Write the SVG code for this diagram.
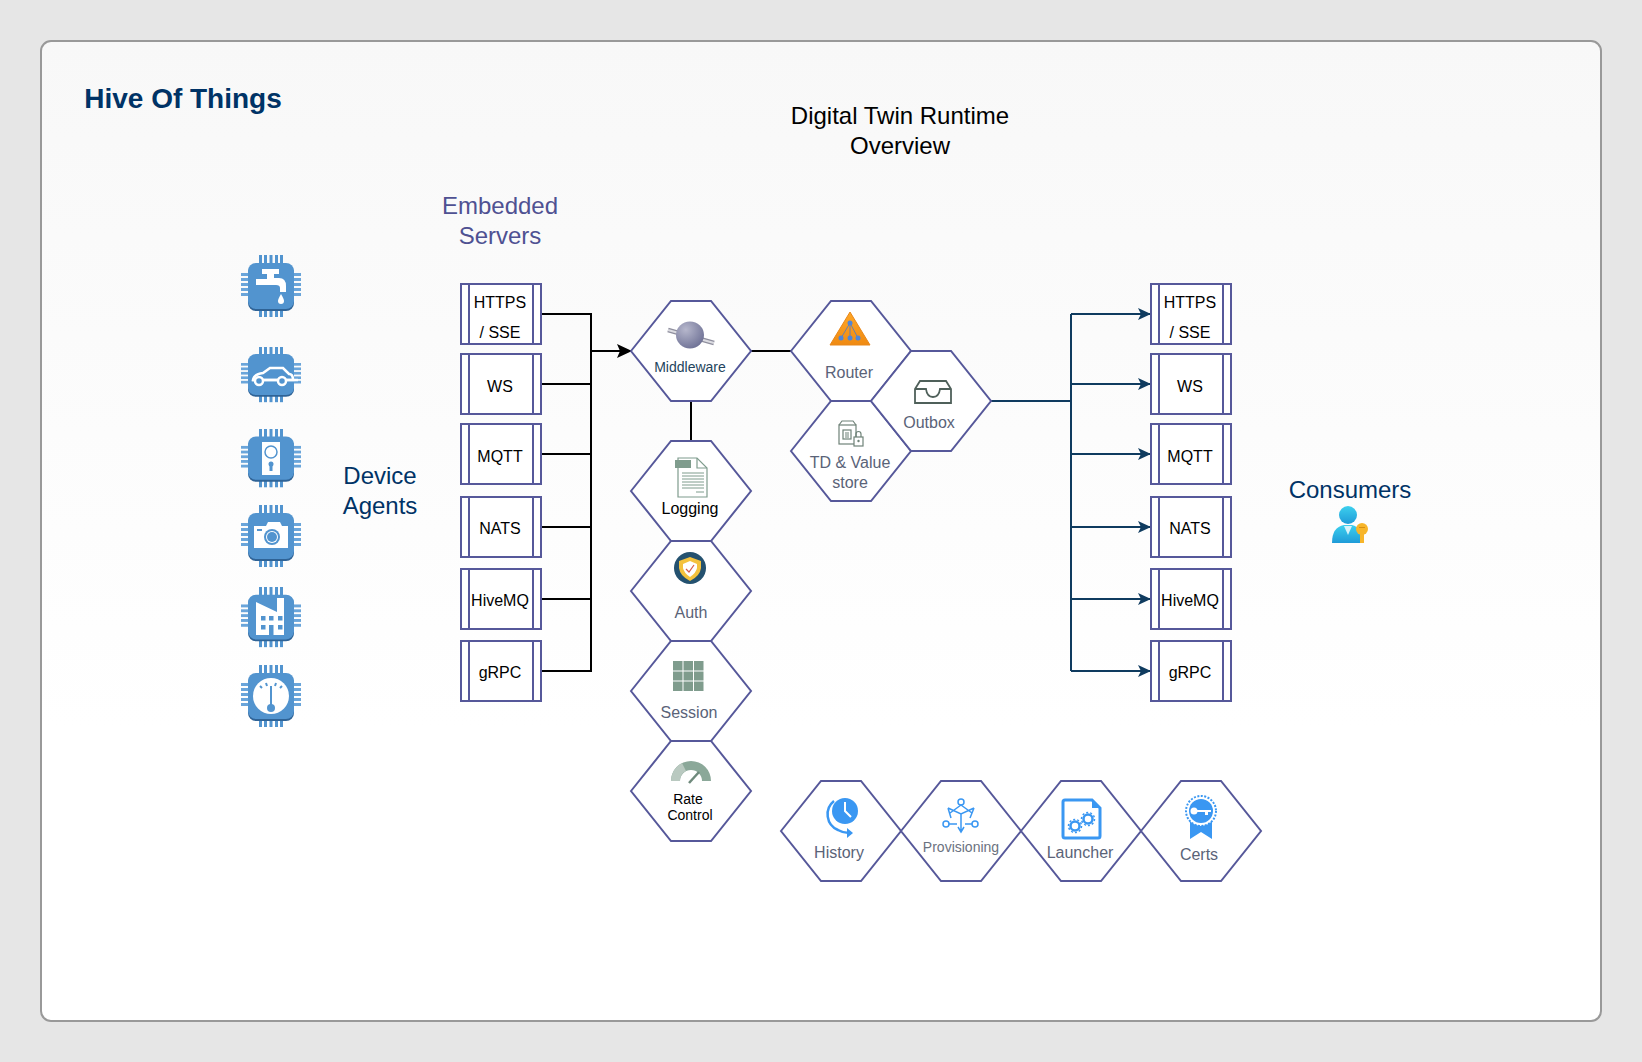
<svg xmlns="http://www.w3.org/2000/svg" width="1642" height="1062" viewBox="0 0 1642 1062">
<style>
text{font-family:"Liberation Sans",Arial,sans-serif;text-anchor:middle}
.hex,.box{fill:#fff;stroke:#56589a;stroke-width:2}
.t16{font-size:16px;fill:#000}
.lbl{font-size:16px;fill:#5a6378}
.t14{font-size:14px;fill:#000}
.big{font-size:24px}
.navy{fill:#003366}
.w{fill:#fff}
.c{fill:none;stroke:#000;stroke-width:2}
.n{fill:none;stroke:#0f3b5f;stroke-width:2}
.blue{fill:#3a97f2}
.bl{fill:none;stroke:#3a97f2}
.gr{fill:none;stroke:#6f8278;stroke-width:1.2}
</style>
<defs>
<linearGradient id="bg" x1="0" y1="0" x2="0" y2="1"><stop offset="0" stop-color="#f8f8f8"/><stop offset="0.7" stop-color="#fff"/></linearGradient>
<linearGradient id="orange" x1="0" y1="0" x2="0" y2="1"><stop offset="0" stop-color="#ffa726"/><stop offset="1" stop-color="#ef8a12"/></linearGradient>
<radialGradient id="ball" cx="0.35" cy="0.3" r="0.8"><stop offset="0" stop-color="#b6b7cc"/><stop offset="1" stop-color="#6a6d92"/></radialGradient>
<linearGradient id="person" x1="0" y1="0" x2="0" y2="1"><stop offset="0" stop-color="#3dd0ee"/><stop offset="1" stop-color="#1f9bd8"/></linearGradient>
<marker id="ak" markerWidth="16" markerHeight="14" refX="15" refY="7" orient="auto" markerUnits="userSpaceOnUse"><path d="M0 0L15 7L0 14L3 7Z" fill="#000"/></marker>
<marker id="an" markerWidth="14" markerHeight="12" refX="13" refY="6" orient="auto" markerUnits="userSpaceOnUse"><path d="M0 0L13 6L0 12L3 6Z" fill="#0f3b5f"/></marker>
<polygon id="h" class="hex" points="0,50 40,0 80,0 120,50 80,100 40,100"/>
<g id="bx"><rect class="box" x="0" y="0" width="80" height="60"/><path class="box" d="M8 0V60M72 0V60"/></g>
<g id="chip">
<g fill="#5294cf"><rect x="18" y="0" width="3" height="62"/><rect x="23" y="0" width="3" height="62"/><rect x="28.500" y="0" width="3" height="62"/><rect x="34" y="0" width="3" height="62"/><rect x="39" y="0" width="3" height="62"/></g>
<g fill="#6aa5da"><rect x="0" y="18" width="60" height="3"/><rect x="0" y="23" width="60" height="3"/><rect x="0" y="28" width="60" height="3"/><rect x="0" y="33" width="60" height="3"/><rect x="0" y="38" width="60" height="3"/></g>
<rect x="7" y="10" width="46" height="46" rx="8" fill="#2f6396"/>
<rect x="7" y="8" width="46" height="46" rx="8" fill="#5294cf"/>
</g>
</defs>
<rect width="1642" height="1062" fill="#e6e6e6"/>
<rect x="41" y="41" width="1560" height="980" rx="10" fill="url(#bg)" stroke="#999" stroke-width="2"/>
<text x="183" y="108" font-size="28" font-weight="bold" class="navy">Hive Of Things</text>
<text x="900" y="124" class="big">Digital Twin Runtime</text>
<text x="900" y="154" class="big">Overview</text>
<text x="500" y="214" class="big" fill="#4f5192">Embedded</text>
<text x="500" y="244" class="big" fill="#4f5192">Servers</text>
<text x="380" y="484" class="big navy">Device</text>
<text x="380" y="514" class="big navy">Agents</text>
<text x="1350" y="498" class="big navy">Consumers</text>

<g id="connectors">
<path class="c" d="M541 314H591V671H541M541 384H591M541 454H591M541 527H591M541 599H591"/>
<path class="c" marker-end="url(#ak)" d="M591 351H632"/>
<path class="c" d="M751 351H791M691 401V441"/>
<path class="n" d="M991 401H1071"/>
<path class="n" marker-end="url(#an)" d="M1071 314H1151"/>
<path class="n" marker-end="url(#an)" d="M1071 384H1151"/>
<path class="n" marker-end="url(#an)" d="M1071 454H1151"/>
<path class="n" marker-end="url(#an)" d="M1071 527H1151"/>
<path class="n" marker-end="url(#an)" d="M1071 599H1151"/>
<path class="n" marker-end="url(#an)" d="M1071 671H1151"/>
<path class="n" d="M1071 314V671"/>
</g>

<g id="chip-tap"><use href="#chip" transform="translate(241 255)"/><path class="w" d="M262 269H279V274H274V278H279Q286 278 286 286V292H280V288Q280 285 276 285H256V279H267V274H262Z"/><path class="w" d="M281 294Q284 299 284 301A3 3 0 0 1 278 301Q278 299 281 294Z"/></g>
<g id="chip-car"><use href="#chip" transform="translate(241 347) scale(1 .89)"/><path d="M253 380Q254 374 263 373L270 368H283L289 374Q293 374 293 380Z" fill="none" stroke="#fff" stroke-width="2.500"/><path d="M252 380H298" stroke="#fff" stroke-width="2.500"/><circle cx="259" cy="381" r="4" fill="#5294cf" stroke="#fff" stroke-width="2.500"/><circle cx="282" cy="381" r="4" fill="#5294cf" stroke="#fff" stroke-width="2.500"/></g>
<g id="chip-lock"><use href="#chip" transform="translate(241 429) scale(1 .94)"/><rect class="w" x="262" y="442" width="18" height="33"/><circle cx="271" cy="452" r="6" fill="#fff" stroke="#5294cf" stroke-width="1.500"/><circle cx="271" cy="464" r="2.500" fill="#5294cf"/><rect x="269.500" y="465" width="3" height="6" fill="#5294cf"/></g>
<g id="chip-camera"><use href="#chip" transform="translate(241 505)"/><path class="w" d="M254 526H266L268 522H280L282 526H288V548H254Z"/><rect x="257" y="529" width="5" height="2" fill="#5294cf"/><circle cx="272" cy="537" r="8" fill="#5294cf"/><circle cx="272" cy="537" r="6" fill="#fff"/><circle cx="272" cy="537" r="5" fill="#5294cf"/></g>
<g id="chip-factory"><use href="#chip" transform="translate(241 587) scale(1 .97)"/><path class="w" d="M256 602L277 612V598H284V635H256Z"/><g fill="#5294cf"><rect x="261" y="616" width="4.500" height="4.500"/><rect x="269" y="616" width="4.500" height="4.500"/><rect x="278" y="616" width="4.500" height="4.500"/><rect x="261" y="625" width="4.500" height="4.500"/><rect x="278" y="625" width="4.500" height="4.500"/><rect x="269" y="625" width="4.500" height="10"/></g></g>
<g id="chip-gauge"><use href="#chip" transform="translate(241 665)"/><circle class="w" cx="271" cy="696" r="18"/><rect x="270" y="686" width="2" height="22" fill="#5294cf"/><circle cx="271" cy="708" r="4" fill="#5294cf"/><path stroke="#5294cf" stroke-width="2" d="M260 686L262 688M266 683L267 686M276 683L275 686M282 686L280 688"/></g>

<g id="l-https"><use href="#bx" x="461" y="284"/><text class="t16" x="500" y="308">HTTPS</text><text class="t16" x="500" y="338">/ SSE</text></g>
<g id="l-ws"><use href="#bx" x="461" y="354"/><text class="t16" x="500" y="392">WS</text></g>
<g id="l-mqtt"><use href="#bx" x="461" y="424"/><text class="t16" x="500" y="462">MQTT</text></g>
<g id="l-nats"><use href="#bx" x="461" y="497"/><text class="t16" x="500" y="534">NATS</text></g>
<g id="l-hivemq"><use href="#bx" x="461" y="569"/><text class="t16" x="500" y="606">HiveMQ</text></g>
<g id="l-grpc"><use href="#bx" x="461" y="641"/><text class="t16" x="500" y="678">gRPC</text></g>
<g id="r-https"><use href="#bx" x="1151" y="284"/><text class="t16" x="1190" y="308">HTTPS</text><text class="t16" x="1190" y="338">/ SSE</text></g>
<g id="r-ws"><use href="#bx" x="1151" y="354"/><text class="t16" x="1190" y="392">WS</text></g>
<g id="r-mqtt"><use href="#bx" x="1151" y="424"/><text class="t16" x="1190" y="462">MQTT</text></g>
<g id="r-nats"><use href="#bx" x="1151" y="497"/><text class="t16" x="1190" y="534">NATS</text></g>
<g id="r-hivemq"><use href="#bx" x="1151" y="569"/><text class="t16" x="1190" y="606">HiveMQ</text></g>
<g id="r-grpc"><use href="#bx" x="1151" y="641"/><text class="t16" x="1190" y="678">gRPC</text></g>

<g id="middleware"><use href="#h" x="631" y="301"/><path d="M668 330L714 343" stroke="#8f8f9e" stroke-width="4.500"/><path d="M668 330L714 343" stroke="#dcdce2" stroke-width="2"/><ellipse cx="690" cy="335" rx="14" ry="13.500" fill="url(#ball)"/><text x="690" y="372" font-size="14" fill="#23445d">Middleware</text></g>
<g id="router"><use href="#h" x="791" y="301"/><polygon points="850,312 870,345 830,345" fill="url(#orange)" stroke="#e8871a"/><path d="M850 323L841 338M850 323L850 338M850 323L858 338" stroke="#6d7fa8" fill="none"/><g fill="#4f86d8"><circle cx="850" cy="323" r="2.500"/><circle cx="841" cy="338" r="2.500"/><circle cx="850" cy="338" r="2.500"/><circle cx="858" cy="338" r="2.500"/></g><text class="lbl" x="849" y="378">Router</text></g>
<g id="td-store"><use href="#h" x="791" y="401"/><g class="gr"><rect x="839" y="425" width="17" height="19"/><path d="M839 425L842 421H853L856 425"/><rect x="843" y="430" width="8" height="9"/><path d="M845 433H849M845 435H849M845 437H849"/></g><rect x="854" y="437" width="9" height="9" fill="#fff" stroke="#6f8278" stroke-width="1.200"/><path class="gr" d="M856 437V434A2.500 2.500 0 0 1 861 434V437"/><circle cx="858.500" cy="441" r="1.200" fill="#6f8278"/><text class="lbl" x="850" y="468">TD &amp; Value</text><text class="lbl" x="850" y="488">store</text></g>
<g id="outbox"><use href="#h" x="871" y="351"/><path d="M915 403V389L920 381H946L951 389V403ZM915 389H926Q927 397 933 397Q939 397 940 389H951" fill="none" stroke="#4f605a" stroke-width="1.800"/><text class="lbl" x="929" y="428">Outbox</text></g>

<g id="logging"><use href="#h" x="631" y="441"/><path d="M678 458H697L707 468V497H678Z" fill="#fff" stroke="#7f9c8d" stroke-width="1.200"/><path d="M697 458V468H707" fill="none" stroke="#7f9c8d" stroke-width="1.200"/><rect x="675" y="460" width="16" height="8" fill="#7f9c8d"/><path d="M682 473H704M682 476H704M682 479H704M682 482H704M682 485H704M682 488H704M696 492H704" stroke="#7f9c8d" fill="none"/><text class="t16" x="690" y="514">Logging</text></g>
<g id="auth"><use href="#h" x="631" y="541"/><circle cx="690" cy="568" r="16" fill="#24516f"/><path d="M690 557L701 561V568Q700 576 690 581Q680 576 679 568V561Z" fill="#f4c23d"/><path d="M690 561L697 564V568Q696 573 690 577Q684 573 683 568V564Z" fill="#fff"/><path d="M686 569L689 572L694 565" fill="none" stroke="#d65a4a" stroke-width="1.200"/><text class="lbl" x="691" y="618">Auth</text></g>
<g id="session"><use href="#h" x="631" y="641"/><g fill="#7f9c8d"><rect x="673" y="661" width="9.500" height="9.500"/><rect x="683.500" y="661" width="9.500" height="9.500"/><rect x="694" y="661" width="9.500" height="9.500"/><rect x="673" y="671.500" width="9.500" height="9"/><rect x="683.500" y="671.500" width="9.500" height="9"/><rect x="694" y="671.500" width="9.500" height="9"/><rect x="673" y="681.500" width="9.500" height="9.500"/><rect x="683.500" y="681.500" width="9.500" height="9.500"/><rect x="694" y="681.500" width="9.500" height="9.500"/></g><text class="lbl" x="689" y="718">Session</text></g>
<g id="rate"><use href="#h" x="631" y="741"/><path d="M671 781A20 20 0 0 1 711 781H702A11 11 0 0 0 680 781Z" fill="#8ba899"/><path d="M671 781A20 20 0 0 1 682 763L686 771A11 11 0 0 0 680 781Z" fill="#b9c9c0"/><path d="M689 783L699 772" stroke="#6f8a7c" stroke-width="2.500"/><text class="t14" x="688" y="804">Rate</text><text class="t14" x="690" y="820">Control</text></g>

<g id="history"><use href="#h" x="781" y="781"/><circle class="blue" cx="845" cy="811" r="13"/><path d="M845 802V811L851 817" fill="none" stroke="#fff" stroke-width="2"/><path class="bl" stroke-width="2.500" d="M834 801A17 17 0 0 0 838 830Q843 833 849 833"/><path class="blue" d="M847 828L853 833L847 838Z"/><text class="lbl" x="839" y="858">History</text></g>
<g id="provisioning"><use href="#h" x="901" y="781"/><g class="bl" stroke-width="1.500"><circle cx="961" cy="802" r="3"/><circle cx="946" cy="824" r="3"/><circle cx="975" cy="824" r="3"/><path d="M961 805L950 813M961 805L972 813M948 808L961 814L974 808M961 814V831M949 824H957M965 824H972M948 808L951 818M974 808L970 818M958 827L961 832L964 827"/></g><text x="961" y="852" font-size="14" fill="#6b7280">Provisioning</text></g>
<g id="launcher"><use href="#h" x="1021" y="781"/><path d="M1065 800H1092L1100 808V836Q1100 838 1098 838H1065Q1063 838 1063 836V802Q1063 800 1065 800Z" fill="#fff" stroke="#3a97f2" stroke-width="3"/><path class="blue" d="M1092 800L1100 808H1092Z"/><circle cx="1088" cy="819" r="4.500" fill="none" stroke="#3a97f2" stroke-width="2.500"/><circle cx="1088" cy="819" r="6.500" fill="none" stroke="#3a97f2" stroke-width="1.500" stroke-dasharray="2 2"/><circle cx="1075" cy="826" r="4.500" fill="none" stroke="#3a97f2" stroke-width="2.500"/><circle cx="1075" cy="826" r="6.500" fill="none" stroke="#3a97f2" stroke-width="1.500" stroke-dasharray="2 2"/><text class="lbl" x="1080" y="858">Launcher</text></g>
<g id="certs"><use href="#h" x="1141" y="781"/><path class="blue" d="M1190 822H1212V839L1201 832L1190 839Z"/><circle cx="1201" cy="811" r="15" fill="#fff" stroke="#3a97f2" stroke-width="2" stroke-dasharray="2 1.500"/><circle cx="1201" cy="811" r="12" class="blue"/><circle cx="1194" cy="811" r="3.500" fill="#fff"/><path d="M1196 810H1211V812H1208V815H1205V812H1196Z" fill="#fff"/><text class="lbl" x="1199" y="860">Certs</text></g>

<g id="consumers-icon"><path d="M1332 543Q1332 527 1344 525H1352Q1362 527 1364 543Z" fill="url(#person)"/><circle cx="1348" cy="515" r="9" fill="url(#person)"/><path d="M1344 526H1352L1348 535Z" fill="#d8f3fa"/><circle cx="1362" cy="529" r="6" fill="#f7b52a"/><rect x="1360" y="532" width="4" height="11" fill="#f7b52a"/><rect x="1359" y="527" width="6" height="1" fill="#d88f10"/></g>
</svg>
